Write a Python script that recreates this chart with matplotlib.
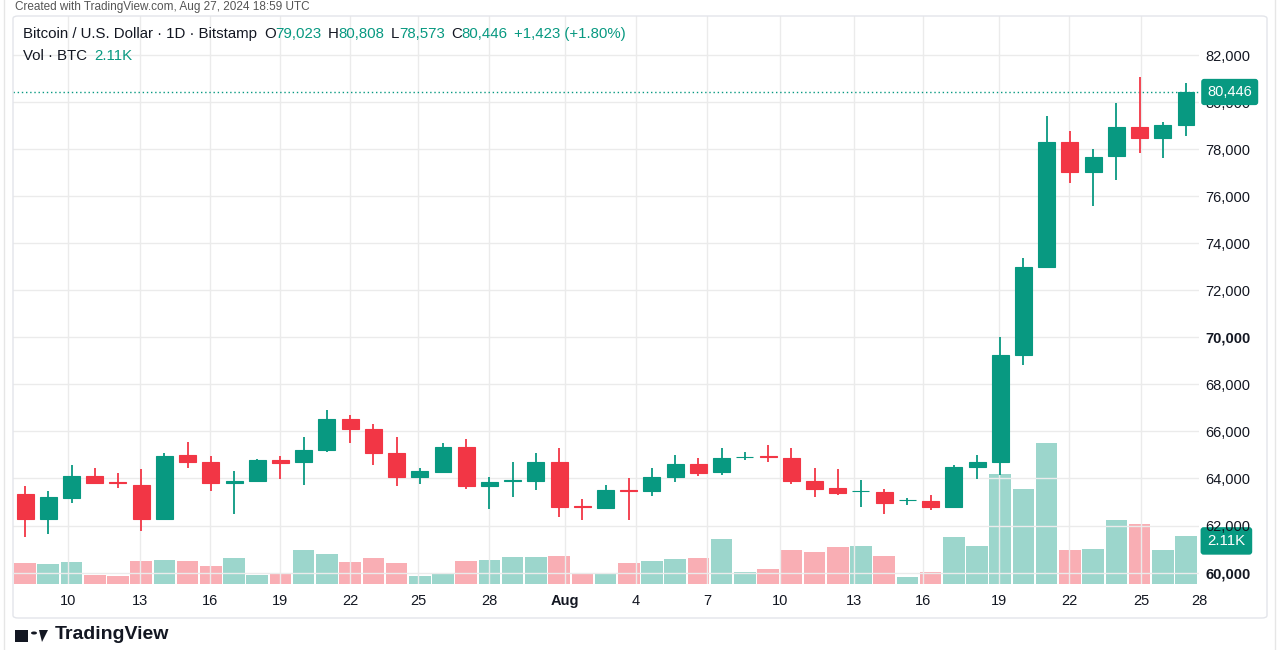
import numpy as np
import matplotlib
matplotlib.use("Agg")
import matplotlib.pyplot as plt
from matplotlib.patches import FancyBboxPatch, Rectangle, Circle, Polygon
from matplotlib.lines import Line2D

plt.rcParams['font.family'] = ['Liberation Sans', 'DejaVu Sans']

# daily candles, Jul 8 .. Aug 27 (BTC/USD, Bitstamp)
opens = [63330, 62260, 63180, 64120, 63830, 63740, 62260, 65000, 64720, 63800,
         63880, 64790, 64690, 65200, 66520, 66100, 65070, 64080, 64290, 65330,
         63680, 63880, 63880, 64720, 62850, 62730, 63530, 63470, 64050, 64600,
         64260, 64900, 64950, 64860, 63910, 63580, 63450, 63410, 63070, 63030,
         62800, 64480, 64700, 69260, 73010, 78320, 77050, 77710, 78960, 78500,
         79023]
highs = [63680, 63470, 64560, 64430, 64230, 64400, 65070, 65540, 64960, 64330,
         64840, 64970, 65780, 66910, 66710, 66310, 65750, 64430, 65520, 65680,
         64050, 64690, 65090, 65310, 63120, 63720, 64020, 64460, 65000, 64860,
         65310, 65130, 65430, 65310, 64430, 64390, 63940, 63540, 63160, 63290,
         64560, 64990, 70020, 73370, 79440, 78770, 78010, 79960, 81070, 79180,
         80808]
lows = [61500, 61640, 62940, 63770, 63580, 61770, 62260, 64460, 63470, 62490,
        63880, 63980, 63710, 65140, 65500, 64570, 63680, 63780, 64260, 63550,
        62700, 63230, 63510, 62370, 62230, 62730, 62230, 63270, 63850, 64120,
        64150, 64790, 64700, 63750, 63210, 63290, 62800, 62480, 62860, 62660,
        62730, 63990, 64140, 68830, 73000, 76560, 75610, 76700, 77840, 77650,
        78573]
closes = [62260, 63200, 64120, 63800, 63790, 62260, 64970, 64720, 63800, 63910,
          64770, 64660, 65210, 66520, 66090, 65070, 64080, 64320, 65330, 63690,
          63860, 63930, 64720, 62800, 62800, 63500, 63480, 64060, 64600, 64250,
          64890, 64930, 64910, 63910, 63550, 63380, 63480, 62970, 63090, 62800,
          64480, 64690, 69260, 72990, 78320, 77050, 77690, 78960, 78500, 79023,
          80446]
# volume in thousands of BTC
volumes = [0.92, 0.88, 0.97, 0.40, 0.35, 1.01, 1.06, 1.01, 0.79, 1.14,
           0.40, 0.48, 1.49, 1.32, 0.97, 1.14, 0.92, 0.35, 0.44, 1.01,
           1.06, 1.19, 1.19, 1.23, 0.48, 0.48, 0.92, 1.01, 1.10, 1.14,
           1.98, 0.53, 0.66, 1.49, 1.41, 1.63, 1.67, 1.23, 0.31, 0.53,
           2.07, 1.67, 4.84, 4.18, 6.20, 1.49, 1.54, 2.81, 2.64, 1.49,
           2.11]

tick_pos = [1.85, 4.95, 7.97, 10.98, 14.0, 16.92, 19.98, 23.26, 26.31,
            29.37, 32.5, 35.7, 38.67, 41.95, 44.96, 48.06, 50.56]
tick_lbls = ['10', '13', '16', '19', '22', '25', '28', 'Aug', '4',
             '7', '10', '13', '16', '19', '22', '25', '28']
price_ticks = list(range(60000, 84000, 2000))

GREEN = '#089981'
RED = '#f23645'
TXT = '#131722'
GRID = '#ebebeb'
W, H = 1280, 650

fig = plt.figure(figsize=(12.8, 6.5), dpi=100)


def px_box(x0, y0, x1, y1):
    return [x0 / W, 1 - y1 / H, (x1 - x0) / W, (y1 - y0) / H]


pos = px_box(13, 16, 1199, 584)
axv = fig.add_axes(pos)
ax = fig.add_axes(pos, sharex=axv)
ax.patch.set_visible(False)

o = np.array(opens)
c = np.array(closes)
x = np.arange(len(o))
cc = np.where(c >= o, GREEN, RED)

# volume
axv.bar(x, volumes, width=0.93, color=cc, alpha=0.4, linewidth=0)
axv.set_ylim(0, 25)
axv.set_axis_off()

# candles
ax.vlines(x, lows, highs, colors=cc, lw=1.3, zorder=3)
ax.bar(x, np.maximum(np.abs(c - o), 1), bottom=np.minimum(o, c), width=0.73,
       color=cc, edgecolor=cc, linewidth=0.8, zorder=4)

ax.set_xlim(-0.52, 50.56)
ax.set_ylim(59511, 83679)
ax.set_yticks(price_ticks)
ax.set_yticklabels([f"{v:,}" for v in price_ticks])
ax.set_xticks(tick_pos)
ax.set_xticklabels(tick_lbls)
ax.yaxis.tick_right()
ax.grid(True, axis='y', color=GRID, lw=1)
for tp in tick_pos[:-1]:
    ax.axvline(tp, color=GRID, lw=1, zorder=0.5)
ax.set_axisbelow(True)
ax.tick_params(axis='both', length=0, labelsize=10.5, colors=TXT)
ax.tick_params(axis='y', pad=4.5)
ax.tick_params(axis='x', pad=7)
for s in ax.spines.values():
    s.set_visible(False)
for lab in ax.get_xticklabels():
    if lab.get_text() == 'Aug':
        lab.set_fontweight('bold')
for lab in ax.get_yticklabels():
    if lab.get_text() in ('60,000', '70,000'):
        lab.set_fontweight('bold')

# last price line and labels
last = closes[-1]
ax.axhline(last, color=GREEN, lw=1, ls=(0, (1, 2)), zorder=2)
ax.annotate(f"{last:,}", xy=(1, last), xycoords=('axes fraction', 'data'),
            xytext=(6, 0), textcoords='offset points', va='center', ha='left',
            fontsize=10.5, color='white', annotation_clip=False, zorder=6,
            bbox=dict(boxstyle='round,pad=0.42,rounding_size=0.2', fc=GREEN, ec='none'))
axv.annotate(f"{volumes[-1]:.2f}K", xy=(1, volumes[-1]), xycoords=('axes fraction', 'data'),
             xytext=(6, -3.5), textcoords='offset points', va='center', ha='left',
             fontsize=10.8, color='white', annotation_clip=False, zorder=6,
             bbox=dict(boxstyle='round,pad=0.45,rounding_size=0.2', fc=GREEN, ec='none'))

# header legend, drawn piece by piece
renderer = fig.canvas.get_renderer()


def header(y_px, parts, x_px=23):
    xx = x_px
    for txt, col, gap in parts:
        t = fig.text(xx / W, 1 - y_px / H, txt, color=col, fontsize=10.8,
                     va='center', ha='left')
        bb = t.get_window_extent(renderer)
        xx += bb.width + gap


header(34, [("Bitcoin / U.S. Dollar · 1D · Bitstamp", TXT, 7),
            ("O", TXT, 0), ("79,023", GREEN, 6),
            ("H", TXT, 0), ("80,808", GREEN, 6),
            ("L", TXT, 0), ("78,573", GREEN, 6),
            ("C", TXT, 0), ("80,446", GREEN, 6),
            ("+1,423 (+1.80%)", GREEN, 0)])
header(56, [("Vol · BTC", TXT, 7), ("2.11K", GREEN, 0)])

# frame and page bits
fig.patches.append(FancyBboxPatch((13 / W, 32 / H), 1254 / W, 602 / H,
                                  boxstyle='round,pad=0,rounding_size=0.004',
                                  transform=fig.transFigure, fc='none',
                                  ec='#e3e5ea', lw=1))
fig.lines.append(Line2D([4 / W, 4 / W], [0, 1], transform=fig.transFigure,
                        color='#e6e6e6', lw=1))
fig.lines.append(Line2D([1275 / W, 1275 / W], [0, 1], transform=fig.transFigure,
                        color='#e6e6e6', lw=1))
fig.text(15 / W, 1 - 7 / H, "Created with TradingView.com, Aug 27, 2024 18:59 UTC",
         fontsize=8.5, color='#555555', va='center', ha='left')
fig.text(55 / W, 1 - 626 / H, "TradingView", fontsize=14, fontweight='bold',
         color='#131722', va='top', ha='left')
fig.patches.append(Rectangle((15 / W, 8 / H), 13 / W, 12 / H, transform=fig.transFigure,
                             fc='#131722', ec='none'))
fig.patches.append(Circle((34 / W, 17 / H), 3 / W, transform=fig.transFigure,
                          fc='#131722', ec='none'))
fig.patches.append(Polygon([(39 / W, 20 / H), (48 / W, 20 / H), (42 / W, 8 / H)],
                           transform=fig.transFigure, fc='#131722', ec='none'))

fig.savefig('out.png', dpi=100, facecolor='white')
